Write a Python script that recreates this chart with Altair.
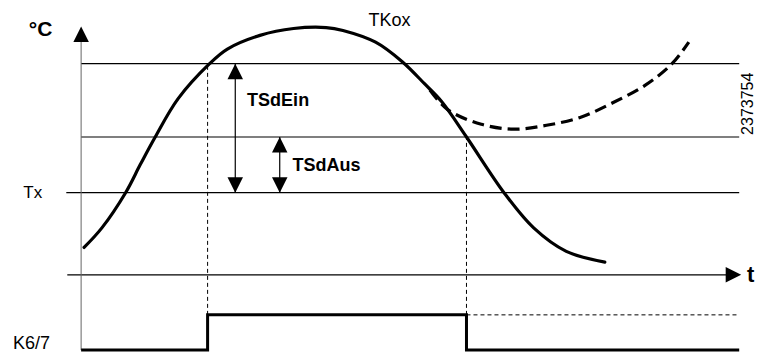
import altair as alt
import pandas as pd

# ---------------- data (time units / temperature units) ----------------
# TKox curve (solid)
curve_t = [3, 21, 45, 60, 75, 98, 130, 148, 181, 215, 248, 265, 298, 325, 348, 365, 390, 428, 458, 491, 530]
curve_T = [28, 48, 84, 113, 141, 180, 216, 231, 245, 252, 253, 250, 238, 218, 195, 177, 141, 84, 48, 24, 13]

# alternative course (dashed)
dash_t = [353, 371, 405, 438, 471, 505, 538, 571, 598, 615]
dash_T = [189, 169, 154, 149, 153, 161, 176, 194, 216, 238]

# horizontal reference levels
level_names = ["Tx + TSdEin", "Tx + TSdAus", "Tx"]
level_values = [216, 141, 84]
level_start = [0, 0, -15]
time_end = 666

# time axis
t_axis_start = -14
t_axis_value = 0
t_arrow_tip = 668
temp_axis_top = 254

# relay K6/7
relay_t = [0, 128, 390, 666]
relay_state = [0, 1, 0, 0]
relay_low = -77
relay_high = -41
switch_times = [128, 390]
switch_levels = [216, 141]

# hysteresis arrows
arrow_names = ["TSdEin", "TSdAus"]
arrow_x = [156, 201]
arrow_top = [216, 141]
arrow_bottom = [84, 84]
arrow_label_x = [168, 214]
arrow_label_y = [178, 111]

FONT = "Liberation Sans"
X = alt.Scale(domain=[-74, 683], nice=False, zero=False)
Y = alt.Scale(domain=[-79, 273], nice=False, zero=False)

def xe(f):
    return alt.X(f, type="quantitative", scale=X, axis=None)

def ye(f):
    return alt.Y(f, type="quantitative", scale=Y, axis=None)

# level lines
lev = pd.DataFrame({"name": level_names, "y": level_values, "x": level_start, "x2": [time_end] * 3})
levels = alt.Chart(lev).mark_rule(color="black", strokeWidth=1.2).encode(
    x=xe("x"), x2="x2", y=ye("y"))

# time axis
tax = pd.DataFrame({"x": [t_axis_start], "x2": [time_end - 6], "y": [t_axis_value]})
t_axis = alt.Chart(tax).mark_rule(color="black", strokeWidth=1.2).encode(x=xe("x"), x2="x2", y=ye("y"))

# temperature axis
yax = pd.DataFrame({"x": [0], "y": [relay_low], "y2": [temp_axis_top - 10]})
y_axis = alt.Chart(yax).mark_rule(color="#666666", strokeWidth=1).encode(x=xe("x"), y=ye("y"), y2="y2")

# arrow heads
UP = "M0,0L1,2L-1,2Z"
DOWN = "M0,0L1,-2L-1,-2Z"
RIGHT = "M0,0L-2,-1L-2,1Z"

def heads(xs, ys, shape):
    d = pd.DataFrame({"x": xs, "y": ys})
    return alt.Chart(d).mark_point(shape=shape, size=240, filled=True, color="black",
                                   opacity=1, strokeWidth=0).encode(x=xe("x"), y=ye("y"))

ax_up = heads([0], [temp_axis_top], UP)
ax_right = heads([t_arrow_tip], [t_axis_value], RIGHT)
m_up = heads(arrow_x, arrow_top, UP)
m_down = heads(arrow_x, arrow_bottom, DOWN)

arr = pd.DataFrame({"name": arrow_names, "x": arrow_x, "top": arrow_top, "bottom": arrow_bottom,
                    "lx": arrow_label_x, "ly": arrow_label_y})
m_rules = alt.Chart(arr).mark_rule(color="black", strokeWidth=1.2).encode(
    x=xe("x"), y=ye("bottom"), y2="top")
m_labels = alt.Chart(arr).mark_text(font=FONT, fontSize=18, fontWeight="bold", align="left",
                                    baseline="middle", color="black").encode(
    x=xe("lx"), y=ye("ly"), text="name")

# curves
cdf = pd.DataFrame({"t": curve_t, "T": curve_T})
curve = alt.Chart(cdf).mark_line(color="black", strokeWidth=3.2, interpolate="catmull-rom",
                                 strokeCap="round").encode(x=xe("t"), y=ye("T"))
ddf = pd.DataFrame({"t": dash_t, "T": dash_T})
dashed = alt.Chart(ddf).mark_line(color="black", strokeWidth=3.2, interpolate="catmull-rom",
                                  strokeDash=[12, 6]).encode(x=xe("t"), y=ye("T"))

# switching guides
sw = pd.DataFrame({"t": switch_times, "lev": switch_levels, "rh": [relay_high] * 2})
sw_rules = alt.Chart(sw).mark_rule(color="black", strokeWidth=1, strokeDash=[4, 3]).encode(
    x=xe("t"), y=ye("rh"), y2="lev")
hd = pd.DataFrame({"x": [switch_times[1]], "x2": [time_end], "y": [relay_high]})
high_dotted = alt.Chart(hd).mark_rule(color="black", strokeWidth=1, strokeDash=[4, 3]).encode(
    x=xe("x"), x2="x2", y=ye("y"))

# relay
rdf = pd.DataFrame({"t": relay_t, "v": [relay_high if s else relay_low for s in relay_state]})
relay = alt.Chart(rdf).mark_line(color="black", strokeWidth=3, interpolate="step-after").encode(
    x=xe("t"), y=ye("v"))

# texts
def label(txt, x, y, size, weight="normal", align="center", baseline="middle", angle=0):
    d = pd.DataFrame({"x": [x], "y": [y], "txt": [txt]})
    kw = dict(font=FONT, fontSize=size, fontWeight=weight, align=align, baseline=baseline, color="black")
    if angle:
        kw["angle"] = angle
    return alt.Chart(d).mark_text(**kw).encode(x=xe("x"), y=ye("y"), text="txt")

texts = [
    label("°C", -41, 250, 21, "bold"),
    label("TKox", 312, 260, 18),
    label("Tx", -49, 84, 17),
    label("K6/7", -69, -71, 18, align="left"),
    label("t", 674, 0, 22, "bold", align="left"),
    label("2373754", 680, 175, 16, angle=270, baseline="alphabetic"),
]

chart = alt.layer(
    levels, t_axis, y_axis, sw_rules, high_dotted, m_rules, m_up, m_down, ax_up, ax_right,
    dashed, curve, relay, m_labels, *texts
).properties(
    width=748, height=344, autosize="none", padding=0, background="white"
).configure_view(stroke=None)

chart.save("out.html", embed_options={"renderer": "svg", "actions": False})
